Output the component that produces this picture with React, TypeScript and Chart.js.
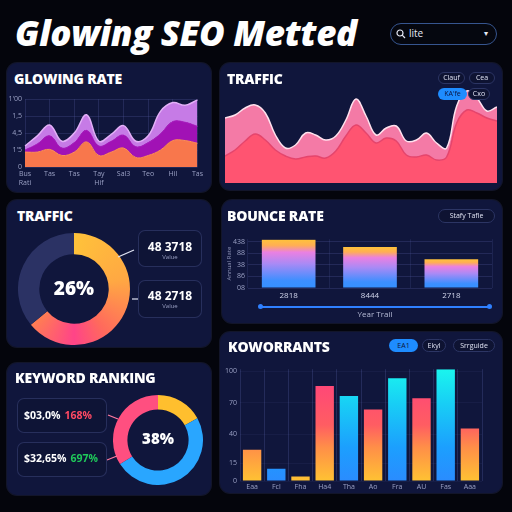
import React, { useEffect, useRef } from "react";
import { Chart, registerables } from "chart.js";

Chart.register(...registerables);

const FONT = "'Open Sans', 'DejaVu Sans', sans-serif";

// ---------- data ----------
// Glowing rate (stacked-looking areas; values are the top edge of each layer)
const rateLabels: (string | string[])[] = [["Bus", "Rati"], "", "Tas", "", "Tas", "", ["Tay", "Hif"], "", "Sal3", "", "Teo", "", "Hil", "", "Tas"];
const rateTickValues = [0, 25, 50, 75, 100];
const rateTickLabels = ["0", "1'5", "4,5", "1,5", "1'00"];
const rateOrange = [22, 22, 26, 17, 22, 37, 17, 22, 28, 14, 17, 25, 39, 39, 35];
const rateMagenta = [25, 34, 46, 28, 36, 54, 31, 38, 47, 30, 36, 49, 67, 66, 60];
const rateViolet = [31, 46, 62, 38, 50, 77, 38, 48, 61, 38, 46, 82, 95, 91, 99];

// Traffic area chart
const trafficTop = [65, 68, 75, 78, 70, 48, 35, 38, 50, 48, 43, 47, 63, 84, 67, 48, 55, 57, 42, 43, 50, 40, 35, 77, 92, 85, 72, 76];
const trafficBottom = [27, 33, 42, 49, 43, 33, 27, 24, 26, 27, 25, 32, 47, 58, 50, 40, 45, 42, 28, 26, 28, 23, 26, 60, 73, 70, 65, 62];
const trafficPills = ["Clauf", "Cea", "KA'fe", "Cxo"];

// Traffic doughnut
const trafficShareLabels = ["Traffic", "Other"];
const trafficShare = [64, 36];
const trafficCenter = "26%";
const trafficStatValues = ["48 3718", "48 2718"];
const trafficStatLabels = ["Value", "Value"];

// Bounce rate
const bounceLabels = ["2818", "8444", "2718"];
const bounceValues = [104, 88, 62];
const bounceTickValues = [0, 25, 50, 75, 100];
const bounceTickLabels = ["08", "86", "38", "88", "438"];

// Keyword ranking
const keywordLabels = ["Top", "Mid", "Low"];
const keywordShare = [17, 49, 34];
const keywordCenter = "38%";
const keywordStatValues = ["$03,0%", "$32,65%"];
const keywordStatChanges = ["168%", "697%"];

// Koworrants
const kwLabels = ["Eaa", "Fcl", "Fha", "Ha4", "Tha", "Ao", "Fra", "AU", "Fas", "Aaa"];
const kwValues = [28, 11, 4, 85, 76, 64, 92, 74, 100, 47];
const kwTone = ["warm", "cool", "warm", "warm", "cool", "warm", "cool", "warm", "cool", "warm"];
const kwTickValues = [0, 16, 42, 70, 98];
const kwTickLabels = ["0", "15", "40", "70", "100"];
const kwPills = ["EA1", "Ekyl", "Srrguide"];

// ---------- helpers ----------
const GRID = "rgba(90,100,170,0.25)";
const TICK = "#9aa0c4";
const noPlugins = { legend: { display: false }, tooltip: { enabled: false } };

function ChartCanvas({ left, top, width, height, make }: any) {
  const ref = useRef<HTMLCanvasElement | null>(null);
  useEffect(() => {
    const chart = new Chart(ref.current as HTMLCanvasElement, make());
    return () => chart.destroy();
  }, []);
  return (
    <canvas
      ref={ref}
      width={width}
      height={height}
      style={{ position: "absolute", left, top, width, height, zIndex: 1 }}
    />
  );
}

function Panel({ left, top, width, height }: any) {
  return (
    <div
      style={{
        position: "absolute",
        left,
        top,
        width,
        height,
        background: "#10163c",
        borderRadius: 10,
        boxShadow: "0 0 0 1px rgba(60,70,130,0.25)",
      }}
    />
  );
}

function Title({ left, top, text }: any) {
  return (
    <div
      style={{
        position: "absolute",
        left,
        top,
        color: "#ffffff",
        fontWeight: 800,
        fontSize: 14,
        lineHeight: "14px",
        letterSpacing: -0.2,
        whiteSpace: "nowrap",
        zIndex: 2,
      }}
    >
      {text}
    </div>
  );
}

function Pill({ left, top, width, height, text, active }: any) {
  return (
    <div
      style={{
        position: "absolute",
        left,
        top,
        width,
        height,
        boxSizing: "border-box",
        borderRadius: height / 2,
        background: active ? "#1e8cff" : "#0e1332",
        border: active ? "none" : "1px solid #2c3564",
        color: active ? "#0b1440" : "#e0e3f3",
        fontSize: 7,
        lineHeight: `${active ? height : height - 2}px`,
        textAlign: "center",
        zIndex: 3,
        whiteSpace: "nowrap",
      }}
    >
      {text}
    </div>
  );
}

function StatBox({ left, top, width, height }: any) {
  return (
    <div
      style={{
        position: "absolute",
        left,
        top,
        width,
        height,
        boxSizing: "border-box",
        borderRadius: 7,
        border: "1px solid rgba(70,80,140,0.45)",
        background: "#0e1436",
        zIndex: 2,
      }}
    />
  );
}

// ---------- chart configs ----------
const makeRate = () => ({
  type: "line",
  data: {
    labels: rateLabels,
    datasets: [
      { data: rateOrange, fill: "origin", backgroundColor: "#f8774c", borderColor: "#ff8c5c", borderWidth: 1, tension: 0.4, pointRadius: 0 },
      { data: rateMagenta, fill: "-1", backgroundColor: "#a112b5", borderColor: "#b020c4", borderWidth: 1, tension: 0.4, pointRadius: 0 },
      { data: rateViolet, fill: "-1", backgroundColor: "#c67be6", borderColor: "#e3b0f7", borderWidth: 1.5, tension: 0.4, pointRadius: 0 },
    ],
  },
  options: {
    responsive: false,
    animation: false,
    events: [],
    layout: { padding: { top: 5, right: 7, left: 0, bottom: 0 } },
    plugins: noPlugins,
    scales: {
      x: {
        grid: { color: (c: any) => (c.index % 2 === 0 ? GRID : "transparent"), drawTicks: false },
        border: { display: false },
        ticks: { color: TICK, font: { size: 7, family: FONT }, maxRotation: 0, autoSkip: false, padding: 3 },
        afterFit: (a: any) => { a.height = 19; },
      },
      y: {
        min: 0,
        max: 100,
        grid: { color: GRID, drawTicks: false },
        border: { display: false },
        afterBuildTicks: (a: any) => { a.ticks = rateTickValues.map((value) => ({ value })); },
        ticks: {
          color: TICK,
          font: { size: 7, family: FONT },
          padding: 3,
          callback: (v: any) => rateTickLabels[rateTickValues.indexOf(v)] ?? "",
        },
        afterFit: (a: any) => { a.width = 17; },
      },
    },
  },
});

const makeTraffic = () => ({
  type: "line",
  data: {
    labels: trafficTop.map(() => ""),
    datasets: [
      { data: trafficBottom, fill: "origin", backgroundColor: "#ff5471", borderColor: "#e5456c", borderWidth: 1.5, tension: 0.4, pointRadius: 0 },
      { data: trafficTop, fill: "origin", backgroundColor: "#f47aa6", borderColor: "#ffe2ee", borderWidth: 1.5, tension: 0.4, pointRadius: 0 },
    ],
  },
  options: {
    responsive: false,
    animation: false,
    events: [],
    layout: { padding: 0 },
    plugins: noPlugins,
    scales: { x: { display: false }, y: { display: false, min: 0, max: 100 } },
  },
});

const makeTrafficDonut = () => ({
  type: "doughnut",
  data: {
    labels: trafficShareLabels,
    datasets: [
      {
        data: trafficShare,
        borderWidth: 0,
        backgroundColor: (ctx: any) => {
          if (ctx.dataIndex === 1) return "#2b3264";
          const chart = ctx.chart;
          const ca = chart.chartArea;
          if (!ca) return "#ff8a40";
          const cx = (ca.left + ca.right) / 2;
          const cy = (ca.top + ca.bottom) / 2;
          const g = chart.ctx.createConicGradient(-Math.PI / 2, cx, cy);
          g.addColorStop(0, "#ffc23a");
          g.addColorStop(0.22, "#ffa843");
          g.addColorStop(0.4, "#ff6a5c");
          g.addColorStop(0.5, "#ff4488");
          g.addColorStop(0.64, "#ff7e52");
          g.addColorStop(1, "#ff7e52");
          return g;
        },
      },
    ],
  },
  options: { responsive: false, animation: false, events: [], cutout: "62%", layout: { padding: 0 }, plugins: noPlugins },
});

const makeBounce = () => ({
  type: "bar",
  data: {
    labels: bounceLabels,
    datasets: [
      {
        data: bounceValues,
        borderWidth: 0,
        barPercentage: 0.66,
        categoryPercentage: 1,
        backgroundColor: (ctx: any) => {
          const chart = ctx.chart;
          const y = chart.scales.y;
          if (!chart.chartArea || !y) return "#8a8cf5";
          const top = y.getPixelForValue(ctx.raw);
          const bottom = y.getPixelForValue(0);
          const g = chart.ctx.createLinearGradient(0, top, 0, bottom);
          g.addColorStop(0, "#ffc23a");
          g.addColorStop(0.12, "#ffae55");
          g.addColorStop(0.26, "#ea80e2");
          g.addColorStop(0.5, "#a98af5");
          g.addColorStop(0.85, "#3c8fff");
          g.addColorStop(1, "#3590ff");
          return g;
        },
      },
    ],
  },
  options: {
    responsive: false,
    animation: false,
    events: [],
    layout: { padding: { top: 6, right: 2, left: 0, bottom: 0 } },
    plugins: noPlugins,
    scales: {
      x: {
        grid: { color: "rgba(90,100,170,0.18)", drawTicks: false },
        border: { display: false },
        ticks: { color: "#d0d4ea", font: { size: 8, family: FONT }, padding: 3 },
        afterFit: (a: any) => { a.height = 16; },
      },
      y: {
        min: 0,
        max: 105,
        grid: { color: GRID, drawTicks: false },
        border: { display: false },
        afterBuildTicks: (a: any) => { a.ticks = bounceTickValues.map((value) => ({ value })); },
        ticks: {
          color: TICK,
          font: { size: 7, family: FONT },
          padding: 3,
          callback: (v: any) => bounceTickLabels[bounceTickValues.indexOf(v)] ?? "",
        },
        title: { display: true, text: "Annual Rate", color: "#8f95b8", font: { size: 6, family: FONT }, padding: 0 },
        afterFit: (a: any) => { a.width = 22; },
      },
    },
  },
});

const makeKeywordDonut = () => ({
  type: "doughnut",
  data: {
    labels: keywordLabels,
    datasets: [{ data: keywordShare, borderWidth: 0, backgroundColor: ["#ffbf2e", "#29a6ff", "#ff4f80"] }],
  },
  options: { responsive: false, animation: false, events: [], cutout: "68%", layout: { padding: 0 }, plugins: noPlugins },
});

const makeKw = () => ({
  type: "bar",
  data: {
    labels: kwLabels,
    datasets: [
      {
        data: kwValues,
        borderWidth: 0,
        barPercentage: 0.76,
        categoryPercentage: 1,
        backgroundColor: (ctx: any) => {
          const chart = ctx.chart;
          const ca = chart.chartArea;
          const warm = kwTone[ctx.dataIndex] === "warm";
          if (!ca) return warm ? "#ff8a48" : "#1e9bff";
          const g = chart.ctx.createLinearGradient(0, ca.bottom, 0, ca.top);
          if (warm) {
            g.addColorStop(0, "#ffc233");
            g.addColorStop(0.3, "#ff8f48");
            g.addColorStop(0.5, "#ff5d62");
            g.addColorStop(1, "#ff3f80");
          } else {
            g.addColorStop(0, "#2a8cff");
            g.addColorStop(0.3, "#1c9ffe");
            g.addColorStop(0.7, "#18cff5");
            g.addColorStop(1, "#1af5ee");
          }
          return g;
        },
      },
    ],
  },
  options: {
    responsive: false,
    animation: false,
    events: [],
    layout: { padding: { top: 4, right: 4, left: 0, bottom: 0 } },
    plugins: noPlugins,
    scales: {
      x: {
        grid: { color: "rgba(90,100,170,0.28)", drawTicks: false },
        border: { display: false },
        ticks: { color: TICK, font: { size: 7, family: FONT }, padding: 2, autoSkip: false, maxRotation: 0 },
        afterFit: (a: any) => { a.height = 11; },
      },
      y: {
        min: 0,
        max: 100,
        grid: { color: "rgba(90,100,170,0.1)", drawTicks: false },
        border: { display: false },
        afterBuildTicks: (a: any) => { a.ticks = kwTickValues.map((value) => ({ value })); },
        ticks: {
          color: TICK,
          font: { size: 7, family: FONT },
          padding: 3,
          callback: (v: any) => kwTickLabels[kwTickValues.indexOf(v)] ?? "",
        },
        afterFit: (a: any) => { a.width = 16; },
      },
    },
  },
});

// ---------- app ----------
export default function App() {
  return (
    <div
      style={{
        position: "fixed",
        left: 0,
        top: 0,
        width: 512,
        height: 512,
        background: "#04050c",
        overflow: "hidden",
        fontFamily: FONT,
      }}
    >
      {/* header */}
      <div
        style={{
          position: "absolute",
          left: 15,
          top: 15,
          color: "#ffffff",
          fontWeight: 800,
          fontStyle: "italic",
          fontSize: 35,
          lineHeight: "35px",
          letterSpacing: -0.3,
          whiteSpace: "nowrap",
        }}
      >
        Glowing SEO Metted
      </div>
      <div
        style={{
          position: "absolute",
          left: 390,
          top: 23,
          width: 107,
          height: 22,
          boxSizing: "border-box",
          border: "1.5px solid #36558f",
          borderRadius: 11,
          background: "#05070f",
        }}
      >
        <svg width="10" height="10" style={{ position: "absolute", left: 5, top: 5 }}>
          <circle cx="4" cy="4" r="3" stroke="#e6e9f5" strokeWidth="1.2" fill="none" />
          <line x1="6.2" y1="6.2" x2="9" y2="9" stroke="#e6e9f5" strokeWidth="1.2" />
        </svg>
        <div style={{ position: "absolute", left: 18, top: 4, color: "#e6e9f5", fontSize: 10, lineHeight: "11px" }}>lite</div>
        <div style={{ position: "absolute", right: 8, top: 3, color: "#e6e9f5", fontSize: 8, lineHeight: "12px" }}>▾</div>
      </div>

      {/* panel 1: glowing rate */}
      <Panel left={7} top={63} width={204} height={129} />
      <Title left={14} top={72} text="GLOWING RATE" />
      <ChartCanvas left={8} top={92} width={198} height={94} make={makeRate} />

      {/* panel 2: traffic area */}
      <Panel left={220} top={63} width={282} height={127} />
      <Title left={227} top={72} text="TRAFFIC" />
      <ChartCanvas left={225} top={83} width={272} height={100} make={makeTraffic} />
      <Pill left={438} top={72} width={27} height={12} text={trafficPills[0]} />
      <Pill left={469} top={72} width={26} height={12} text={trafficPills[1]} />
      <Pill left={438} top={88} width={29} height={12} text={trafficPills[2]} active />
      <Pill left={468} top={88} width={22} height={12} text={trafficPills[3]} />

      {/* panel 3: traffic doughnut */}
      <Panel left={7} top={200} width={204} height={147} />
      <Title left={17} top={209} text="TRAFFIC" />
      <ChartCanvas left={18} top={233} width={112} height={112} make={makeTrafficDonut} />
      <div style={{ position: "absolute", left: 34, width: 80, top: 279, textAlign: "center", color: "#fff", fontWeight: 800, fontSize: 19, lineHeight: "19px", zIndex: 2 }}>
        {trafficCenter}
      </div>
      <svg width="512" height="512" style={{ position: "absolute", left: 0, top: 0, zIndex: 2 }}>
        <line x1="118" y1="257" x2="134" y2="250" stroke="#dfe3f2" strokeWidth="1.2" />
        <line x1="132" y1="299" x2="138" y2="299" stroke="#dfe3f2" strokeWidth="1.2" />
        <line x1="108" y1="415" x2="118" y2="419" stroke="#ff7aa0" strokeWidth="1.2" />
        <line x1="107" y1="460" x2="117" y2="456" stroke="#ff7aa0" strokeWidth="1.2" />
      </svg>
      <StatBox left={138} top={230} width={64} height={37} />
      <StatBox left={138} top={280} width={64} height={38} />
      {trafficStatValues.map((v, i) => (
        <React.Fragment key={v + i}>
          <div style={{ position: "absolute", left: 138, width: 64, top: 241 + i * 49, textAlign: "center", color: "#fff", fontWeight: 700, fontSize: 12, lineHeight: "12px", zIndex: 3, whiteSpace: "nowrap" }}>
            {v}
          </div>
          <div style={{ position: "absolute", left: 138, width: 64, top: 254 + i * 49, textAlign: "center", color: "#9aa0c4", fontSize: 6, lineHeight: "6px", zIndex: 3 }}>
            {trafficStatLabels[i]}
          </div>
        </React.Fragment>
      ))}

      {/* panel 4: bounce rate */}
      <Panel left={222} top={200} width={280} height={123} />
      <Title left={227} top={209} text="BOUNCE RATE" />
      <Pill left={438} top={209} width={57} height={14} text="Stafy Tafle" />
      <ChartCanvas left={226} top={232} width={268} height={72} make={makeBounce} />
      <div style={{ position: "absolute", left: 261, top: 306, width: 228, height: 1.5, background: "#2f80ff", zIndex: 2 }} />
      <div style={{ position: "absolute", left: 258, top: 304, width: 5, height: 5, borderRadius: 3, background: "#2f80ff", zIndex: 2 }} />
      <div style={{ position: "absolute", left: 487, top: 304, width: 5, height: 5, borderRadius: 3, background: "#2f80ff", zIndex: 2 }} />
      <div style={{ position: "absolute", left: 335, width: 80, top: 309, textAlign: "center", color: "#b6bbd6", fontSize: 8, lineHeight: "9px", zIndex: 2 }}>
        Year Trail
      </div>

      {/* panel 5: keyword ranking */}
      <Panel left={7} top={363} width={204} height={132} />
      <Title left={15} top={371} text="KEYWORD RANKING" />
      <StatBox left={17} top={398} width={90} height={35} />
      <StatBox left={17} top={442} width={90} height={35} />
      {keywordStatValues.map((v, i) => (
        <div
          key={v}
          style={{ position: "absolute", left: 24, top: 410 + i * 43, color: "#fff", fontWeight: 700, fontSize: 10.5, lineHeight: "11px", zIndex: 3, whiteSpace: "nowrap" }}
        >
          {v}
          <span style={{ marginLeft: 4, color: i === 0 ? "#ff4a64" : "#1fc95a" }}>{keywordStatChanges[i]}</span>
        </div>
      ))}
      <ChartCanvas left={113} top={395} width={90} height={90} make={makeKeywordDonut} />
      <div style={{ position: "absolute", left: 118, width: 80, top: 431, textAlign: "center", color: "#fff", fontWeight: 800, fontSize: 15, lineHeight: "15px", zIndex: 2 }}>
        {keywordCenter}
      </div>

      {/* panel 6: koworrants */}
      <Panel left={220} top={332} width={282} height={161} />
      <Title left={228} top={340} text="KOWORRANTS" />
      <Pill left={389} top={339} width={29} height={13} text={kwPills[0]} active />
      <Pill left={422} top={339} width={24} height={13} text={kwPills[1]} />
      <Pill left={453} top={339} width={42} height={13} text={kwPills[2]} />
      <ChartCanvas left={224} top={362} width={262} height={130} make={makeKw} />
    </div>
  );
}
